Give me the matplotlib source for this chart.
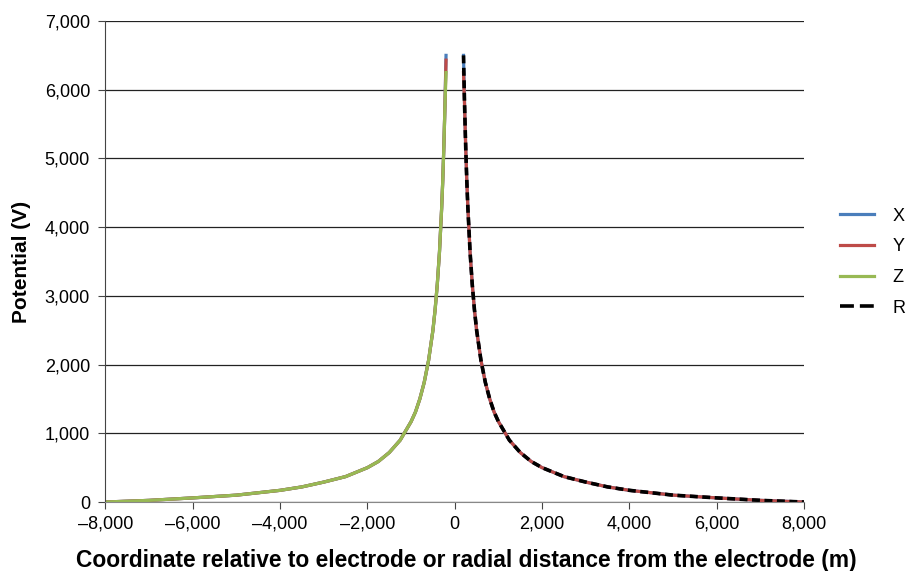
import matplotlib
matplotlib.use("Agg")
import matplotlib.pyplot as plt
from matplotlib.ticker import FuncFormatter
from matplotlib.lines import Line2D
import numpy as np

plt.rcParams['font.family'] = ['Liberation Sans', 'DejaVu Sans']

# distances (m) and potentials (V)
r_pts = [200, 225, 250, 275, 300, 350, 400, 450, 500, 600, 700, 800, 900,
         1000, 1250, 1500, 1750, 2000, 2500, 3000, 3500, 4000, 5000, 6000,
         7000, 8000]
v_pts = [6500, 5760, 5170, 4680, 4280, 3640, 3170, 2800, 2500, 2060, 1740,
         1500, 1310, 1170, 900, 720, 590, 500, 370, 290, 220, 170, 100, 60,
         24, 0]

# peak value of each branch at the electrode edge
x_left_peak, x_right_peak = 6500, 6500
y_left_peak, y_right_peak = 6430, 6250
z_left_peak = 6250
r_peak = 6500

x_left = [-r for r in r_pts][::-1]

def left_branch(peak):
    return ([peak] + v_pts[1:])[::-1]

def right_branch(peak):
    return [peak] + v_pts[1:]

X_x = x_left + [None] + r_pts
X_v = left_branch(x_left_peak) + [None] + right_branch(x_right_peak)
Y_x = x_left + [None] + r_pts
Y_v = left_branch(y_left_peak) + [None] + right_branch(y_right_peak)
Z_x = x_left
Z_v = left_branch(z_left_peak)
R_x = r_pts
R_v = right_branch(r_peak)

def arr(a):
    return np.array([np.nan if v is None else v for v in a], dtype=float)

fig = plt.figure(figsize=(9.08, 5.71), dpi=100)
ax = fig.add_axes([0.1160, 0.1208, 0.7697, 0.8424])

lx, = ax.plot(arr(X_x), arr(X_v), color='#4a7ebb', lw=2.3)
ly, = ax.plot(arr(Y_x), arr(Y_v), color='#be4b48', lw=2.3)
lz, = ax.plot(arr(Z_x), arr(Z_v), color='#98b954', lw=2.3)
ax.plot(arr(R_x), arr(R_v), color='black', lw=2.6, ls=(0, (2.2, 1.25)))

ax.set_xlim(-8000, 8000)
ax.set_ylim(0, 7000)
ax.set_xticks(range(-8000, 8001, 2000))
ax.set_yticks(range(0, 7001, 1000))

def fmt(v, pos):
    s = f"{abs(int(v)):,}"
    return ("\u2013" + s) if v < 0 else s

ax.xaxis.set_major_formatter(FuncFormatter(fmt))
ax.yaxis.set_major_formatter(FuncFormatter(fmt))
ax.grid(axis='y', color='#222222', lw=0.9)
ax.set_axisbelow(True)
for s in ['top', 'right']:
    ax.spines[s].set_visible(False)
ax.spines['left'].set_color('#444444')
ax.spines['bottom'].set_color('#888888')
ax.tick_params(axis='both', labelsize=13, direction='out', length=5, color='#444444')
ax.tick_params(axis='x', pad=5)
ax.tick_params(axis='y', pad=6)

ax.set_xlabel('Coordinate relative to electrode or radial distance from the electrode (m)',
              fontsize=16.4, fontweight='bold')
ax.xaxis.set_label_coords(0.516, -0.098)
ax.set_ylabel('Potential (V)', fontsize=15, fontweight='bold', labelpad=10)

r_handle = Line2D([], [], color='black', lw=2.6, ls=(0, (3.85, 1.65)))
fig.legend([lx, ly, lz, r_handle], ['X', 'Y', 'Z', 'R'],
           loc='center left', bbox_to_anchor=(0.925, 0.541), frameon=False,
           fontsize=13, handlelength=1.9, labelspacing=0.76, handletextpad=1.0,
           borderpad=0, borderaxespad=0)

fig.savefig('out.png', dpi=100)
